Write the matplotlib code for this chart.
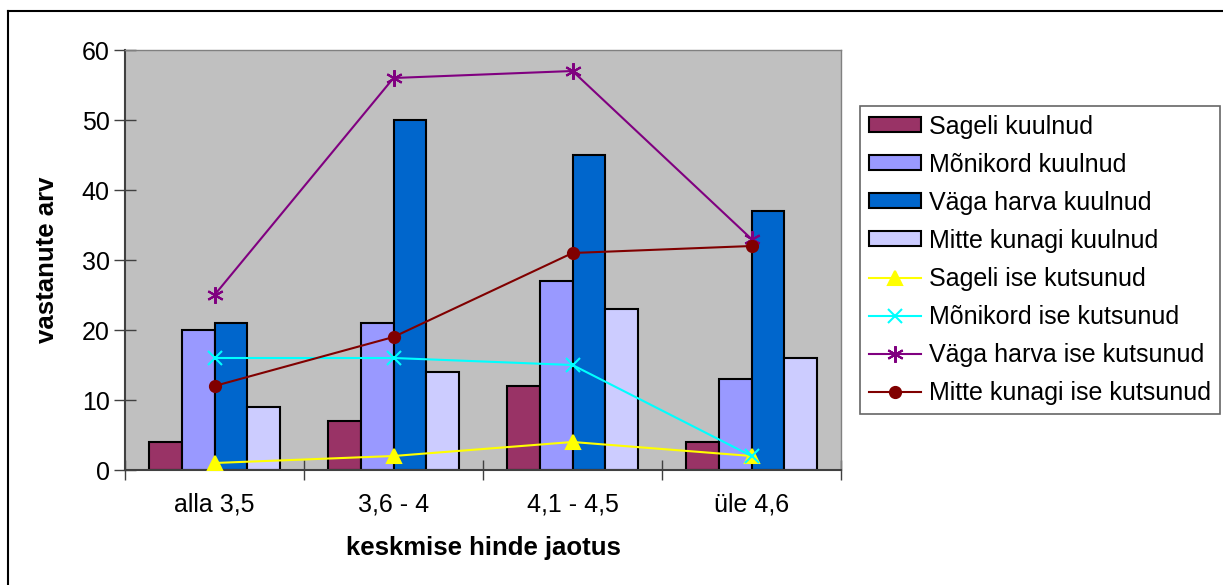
import matplotlib
matplotlib.use('Agg')
import matplotlib.pyplot as plt
import numpy as np
from matplotlib.lines import Line2D

plt.rcParams['font.family'] = ['Liberation Sans', 'DejaVu Sans']

# ── Andmed ────────────────────────────────────────────────────────────────────
categories = ['alla 3,5', '3,6 - 4', '4,1 - 4,5', 'üle 4,6']

bar_names = ['Sageli kuulnud', 'Mõnikord kuulnud', 'Väga harva kuulnud', 'Mitte kunagi kuulnud']
sageli_kuulnud    = [4, 7, 12, 4]
monikord_kuulnud  = [20, 21, 27, 13]
vaga_harva_kuulnud = [21, 50, 45, 37]
mitte_kunagi_kuulnud = [9, 14, 23, 16]

line_names = ['Sageli ise kutsunud', 'Mõnikord ise kutsunud',
              'Väga harva ise kutsunud', 'Mitte kunagi ise kutsunud']
sageli_ise    = [1, 2, 4, 2]
monikord_ise  = [16, 16, 15, 2]
vaga_harva_ise = [25, 56, 57, 33]
mitte_kunagi_ise = [12, 19, 31, 32]

BAR_COLORS  = ['#993366', '#9999FF', '#0066CC', '#CCCCFF']
LINE_COLORS = ['#FFFF00', '#00FFFF', '#800080', '#800000']
MARKERS     = ['^', 'x', (6, 2, 0), 'o']
MSIZES      = [10, 10, 12, 8]

# ── Joonis ────────────────────────────────────────────────────────────────────
W, H = 1223, 585
fig = plt.figure(figsize=(W / 100, H / 100), dpi=100)
ax = fig.add_axes([125 / W, 1 - 470 / H, 716 / W, 420 / H])
ax.set_facecolor('#C0C0C0')

# välimine raam (ainult ülemine ja vasak serv on näha)
fig.add_artist(Line2D([8 / W, 1], [1 - 11 / H, 1 - 11 / H], transform=fig.transFigure,
                      color='black', linewidth=1.5))
fig.add_artist(Line2D([8 / W, 8 / W], [0, 1 - 11 / H], transform=fig.transFigure,
                      color='black', linewidth=1.5))

x = np.arange(len(categories))
w = 0.184
bar_series = [sageli_kuulnud, monikord_kuulnud, vaga_harva_kuulnud, mitte_kunagi_kuulnud]
handles = []
for i, (vals, name, col) in enumerate(zip(bar_series, bar_names, BAR_COLORS)):
    b = ax.bar(x + (i - 1.5) * w, vals, w, color=col, edgecolor='black',
               linewidth=1.5, label=name, zorder=2)
    handles.append(b)

line_series = [sageli_ise, monikord_ise, vaga_harva_ise, mitte_kunagi_ise]
for vals, name, col, mk, ms in zip(line_series, line_names, LINE_COLORS, MARKERS, MSIZES):
    l, = ax.plot(x, vals, color=col, marker=mk, markersize=ms, linewidth=1.5,
                 markeredgewidth=1.5, label=name, zorder=3)
    handles.append(l)

ax.set_xlim(-0.5, 3.5)
ax.set_ylim(0, 60)
ax.set_yticks(range(0, 61, 10))
ax.set_xticks(x)
ax.set_xticklabels(categories)
ax.set_xticks(np.arange(-0.5, 3.6, 1), minor=True)
ax.tick_params(axis='x', which='major', length=0, pad=16, labelsize=18)
ax.tick_params(axis='x', which='minor', length=14, direction='inout', width=1, color='#404040')
ax.tick_params(axis='y', length=16, direction='inout', width=1, labelsize=18, pad=3,
               color='#404040')

for side in ['left', 'bottom']:
    ax.spines[side].set_color('#404040')
    ax.spines[side].set_linewidth(1.5)
for side in ['top', 'right']:
    ax.spines[side].set_color('#808080')
    ax.spines[side].set_linewidth(1)

ax.set_xlabel('keskmise hinde jaotus', fontsize=18.5, fontweight='bold', labelpad=14)
ax.set_ylabel('vastanute arv', fontsize=18.5, fontweight='bold', labelpad=16)

leg = fig.legend(handles=handles, loc='upper left',
                 bbox_to_anchor=(860 / W, 1 - 106 / H),
                 bbox_transform=fig.transFigure, fontsize=18, frameon=True,
                 fancybox=False, edgecolor='#404040', borderaxespad=0,
                 handlelength=2.1, handleheight=0.55, labelspacing=0.56,
                 borderpad=0.35, handletextpad=0.3)
leg.get_frame().set_linewidth(1.2)

plt.savefig('out.png', dpi=100)
